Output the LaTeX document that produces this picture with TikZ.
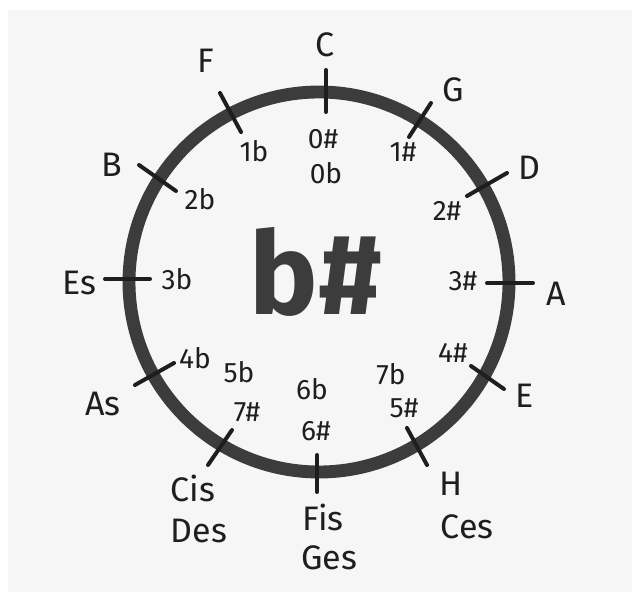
\documentclass[tikz,border=0pt]{standalone}
\usepackage{fontspec}
\setmainfont{Fira Sans}
\definecolor{ink}{HTML}{1E1E1E}
\definecolor{pen}{HTML}{3C3C3C}
\definecolor{paper}{HTML}{F6F6F7}

\begin{document}
\begin{tikzpicture}[x=0.3mm,y=-0.3mm]
\tikzstyle{every node}=[inner sep=0pt, text=ink];
\tikzstyle{key}=[font=\fontsize{29}{29}\selectfont];
\tikzstyle{num}=[font=\fontsize{24}{24}\selectfont];
\tikzstyle{notch}=[line width=3.4pt, draw=ink, line cap=round];

\useasboundingbox (0,0) rectangle (632,592);
\fill[paper] (8,10) rectangle (632,592);

\draw[line width=11pt, draw=pen] (319,282) circle [radius=57mm];

\draw (316,272) node[text=pen] (sign) {\fontsize{98}{98}\selectfont\bfseries b\#};

\draw (325,45) node[key] (C) {C};
\draw (453,90) node[key] (G) {G};
\draw (529,168) node[key] (D) {D};
\draw (556,294) node[key] (A) {A};
\draw (525,396) node[key] (E) {E};
\draw (451,484) node[key] (H) {H};
\draw (467,527) node[key] (Ces) {Ces};
\draw (323,517) node[key] (Fis) {Fis};
\draw (329,558) node[key] (Ges) {Ges};
\draw (193,488) node[key] (Cis) {Cis};
\draw (199,531) node[key] (Des) {Des};
\draw (103,404) node[key] (As) {As};
\draw (79,283) node[key] (Es) {Es};
\draw (112,165) node[key] (B) {B};
\draw (206,61) node[key] (F) {F};

\draw (323,139) node[num] (s0) {0\#};
\draw (326,173) node[num] (b0) {0b};
\draw (403,152) node[num] (s1) {1\#};
\draw (447,211) node[num] (s2) {2\#};
\draw (463,281) node[num] (s3) {3\#};
\draw (453,353) node[num] (s4) {4\#};
\draw (391,374) node[num] (b7) {7b};
\draw (404,408) node[num] (s5) {5\#};
\draw (312,389) node[num] (b6) {6b};
\draw (316,431) node[num] (s6) {6\#};
\draw (239,372) node[num] (b5) {5b};
\draw (247,412) node[num] (s7) {7\#};
\draw (195,358) node[num] (b4) {4b};
\draw (177,279) node[num] (b3) {3b};
\draw (200,199) node[num] (b2) {2b};
\draw (254,151) node[num] (b1) {1b};

\coordinate (tC1) at (326,70);  \coordinate (tC2) at (326,112);
\coordinate (tG1) at (431,103); \coordinate (tG2) at (409,137);
\coordinate (tD1) at (507,173); \coordinate (tD2) at (467,196);
\coordinate (tA1) at (533,283); \coordinate (tA2) at (487,283);
\coordinate (tE1) at (504,389); \coordinate (tE2) at (471,366);
\coordinate (tH1) at (427,465); \coordinate (tH2) at (407,428);
\coordinate (tF1) at (317,492); \coordinate (tF2) at (317,455);
\coordinate (tCis1) at (208,465); \coordinate (tCis2) at (232,430);
\coordinate (tAs1) at (135,385); \coordinate (tAs2) at (174,363);
\coordinate (tEs1) at (105,279); \coordinate (tEs2) at (150,279);
\coordinate (tB1) at (139,165); \coordinate (tB2) at (176,191);
\coordinate (tFf1) at (220,93); \coordinate (tFf2) at (241,132);

\draw[notch] (tC1) -- (tC2);
\draw[notch] (tG1) -- (tG2);
\draw[notch] (tD1) -- (tD2);
\draw[notch] (tA1) -- (tA2);
\draw[notch] (tE1) -- (tE2);
\draw[notch] (tH1) -- (tH2);
\draw[notch] (tF1) -- (tF2);
\draw[notch] (tCis1) -- (tCis2);
\draw[notch] (tAs1) -- (tAs2);
\draw[notch] (tEs1) -- (tEs2);
\draw[notch] (tB1) -- (tB2);
\draw[notch] (tFf1) -- (tFf2);

\end{tikzpicture}
\end{document}
